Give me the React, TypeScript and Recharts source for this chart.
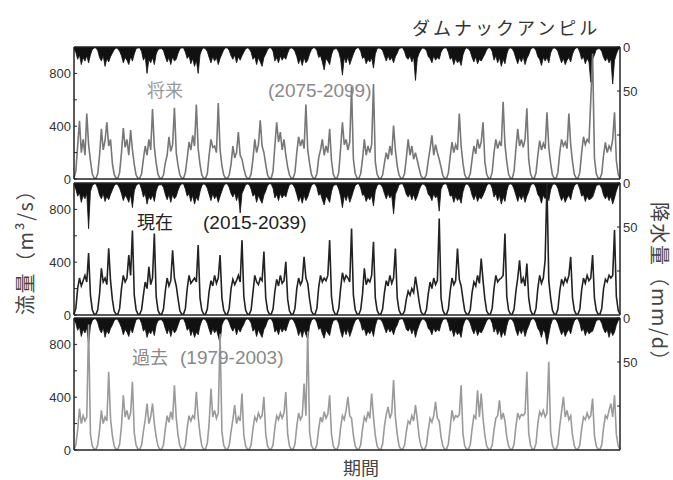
import React from 'react';
import { ComposedChart, Line, Area, XAxis, YAxis, ReferenceLine } from 'recharts';

const months = ['01', '02', '03', '04', '05', '06', '07', '08', '09', '10', '11', '12'];

const futureYears = [2075, 2076, 2077, 2078, 2079, 2080, 2081, 2082, 2083, 2084, 2085, 2086, 2087, 2088, 2089, 2090, 2091, 2092, 2093, 2094, 2095, 2096, 2097, 2098, 2099];
const presentYears = [2015, 2016, 2017, 2018, 2019, 2020, 2021, 2022, 2023, 2024, 2025, 2026, 2027, 2028, 2029, 2030, 2031, 2032, 2033, 2034, 2035, 2036, 2037, 2038, 2039];
const pastYears = [1979, 1980, 1981, 1982, 1983, 1984, 1985, 1986, 1987, 1988, 1989, 1990, 1991, 1992, 1993, 1994, 1995, 1996, 1997, 1998, 1999, 2000, 2001, 2002, 2003];

// flow (m3/s), 12 values per year
const futureFlow = [
  5, 60, 250, 440, 200, 300, 180, 495, 260, 140, 40, 8,
  6, 40, 180, 380, 220, 290, 430, 250, 300, 120, 35, 8,
  5, 50, 200, 385, 240, 300, 180, 370, 220, 110, 30, 6,
  6, 40, 150, 250, 180, 300, 220, 530, 240, 120, 35, 7,
  5, 30, 120, 180, 320, 210, 260, 540, 200, 100, 30, 6,
  6, 50, 160, 280, 220, 330, 250, 565, 230, 110, 30, 6,
  5, 40, 180, 300, 240, 250, 200, 575, 220, 100, 30, 6,
  5, 30, 110, 250, 160, 200, 355, 180, 150, 80, 25, 5,
  5, 40, 150, 300, 200, 260, 445, 250, 200, 110, 30, 6,
  6, 60, 250, 430, 280, 355, 220, 300, 180, 90, 30, 6,
  5, 50, 200, 320, 250, 300, 230, 565, 220, 120, 35, 7,
  6, 40, 160, 220, 300, 180, 250, 200, 380, 140, 35, 6,
  5, 50, 230, 430, 260, 300, 220, 280, 700, 150, 40, 8,
  6, 40, 150, 300, 180, 250, 200, 260, 720, 130, 35, 6,
  5, 30, 120, 200, 150, 250, 180, 405, 220, 100, 30, 5,
  5, 40, 160, 300, 180, 250, 150, 200, 140, 80, 25, 5,
  5, 35, 140, 230, 330, 180, 260, 200, 150, 90, 25, 5,
  6, 45, 170, 280, 200, 260, 220, 495, 250, 120, 30, 6,
  5, 40, 150, 250, 190, 300, 230, 280, 430, 130, 35, 6,
  6, 50, 200, 300, 230, 280, 250, 585, 260, 130, 35, 7,
  6, 60, 230, 380, 250, 300, 240, 300, 535, 150, 40, 8,
  5, 45, 180, 290, 220, 270, 230, 505, 240, 120, 30, 6,
  6, 50, 200, 300, 250, 280, 230, 495, 260, 130, 35, 6,
  6, 50, 200, 320, 260, 300, 280, 600, 950, 160, 40, 8,
  5, 40, 180, 278, 200, 250, 220, 300, 505, 140, 35, 6,
];

const presentFlow = [
  5, 50, 200, 280, 220, 260, 300, 250, 470, 150, 40, 8,
  6, 40, 160, 353, 250, 280, 230, 505, 260, 120, 30, 6,
  5, 50, 200, 300, 250, 280, 454, 300, 640, 150, 40, 7,
  6, 40, 150, 250, 200, 365, 230, 280, 617, 140, 35, 6,
  5, 45, 180, 280, 220, 260, 490, 280, 220, 120, 30, 6,
  6, 50, 200, 300, 240, 260, 280, 250, 530, 130, 35, 7,
  5, 45, 180, 260, 220, 300, 240, 280, 454, 130, 35, 6,
  6, 50, 200, 270, 230, 260, 300, 250, 567, 140, 35, 7,
  5, 40, 170, 300, 250, 230, 280, 260, 480, 130, 35, 6,
  6, 45, 180, 270, 220, 300, 240, 260, 403, 120, 30, 6,
  5, 50, 200, 280, 230, 260, 440, 280, 240, 120, 30, 6,
  6, 50, 210, 300, 250, 280, 260, 300, 567, 140, 35, 7,
  5, 50, 200, 320, 260, 300, 280, 250, 655, 150, 40, 7,
  6, 40, 160, 353, 230, 270, 250, 300, 554, 130, 35, 6,
  5, 45, 170, 260, 220, 300, 240, 280, 504, 130, 35, 6,
  5, 30, 120, 180, 150, 200, 170, 290, 200, 100, 25, 5,
  6, 40, 160, 250, 200, 280, 230, 260, 730, 130, 35, 6,
  5, 45, 180, 280, 230, 260, 504, 270, 220, 120, 30, 6,
  6, 40, 170, 250, 220, 300, 240, 428, 260, 120, 30, 6,
  6, 50, 200, 300, 250, 270, 280, 300, 617, 140, 35, 7,
  5, 45, 180, 280, 415, 240, 280, 220, 390, 130, 35, 6,
  6, 50, 200, 300, 240, 280, 415, 1000, 260, 130, 35, 6,
  5, 45, 180, 270, 230, 280, 250, 300, 440, 130, 35, 6,
  6, 45, 190, 280, 240, 300, 260, 280, 454, 130, 35, 6,
  5, 50, 200, 270, 250, 300, 280, 300, 643, 140, 35, 7,
];

const pastFlow = [
  5, 40, 150, 314, 200, 260, 220, 250, 950, 120, 30, 6,
  6, 40, 150, 300, 200, 250, 220, 592, 240, 110, 30, 6,
  5, 45, 180, 415, 250, 300, 230, 280, 516, 130, 35, 6,
  5, 35, 140, 230, 352, 200, 250, 352, 200, 100, 30, 5,
  6, 40, 160, 260, 210, 290, 230, 490, 240, 110, 30, 6,
  5, 40, 170, 260, 220, 260, 240, 440, 250, 120, 30, 6,
  6, 50, 200, 465, 250, 300, 240, 280, 880, 140, 35, 7,
  5, 35, 140, 230, 340, 200, 250, 220, 428, 110, 30, 5,
  5, 40, 160, 250, 220, 280, 240, 260, 402, 120, 30, 6,
  6, 40, 170, 260, 230, 280, 240, 280, 440, 120, 30, 6,
  5, 45, 180, 280, 230, 260, 503, 260, 900, 140, 35, 7,
  6, 40, 160, 250, 210, 290, 240, 270, 415, 120, 30, 6,
  5, 40, 170, 260, 230, 300, 402, 260, 240, 110, 30, 6,
  5, 40, 160, 250, 220, 290, 240, 428, 250, 110, 30, 6,
  6, 45, 180, 270, 326, 240, 280, 530, 250, 120, 30, 6,
  5, 35, 140, 220, 200, 260, 220, 340, 230, 100, 30, 5,
  5, 40, 150, 240, 210, 260, 365, 240, 220, 100, 30, 5,
  6, 45, 170, 300, 230, 260, 250, 270, 490, 120, 30, 6,
  5, 40, 160, 260, 240, 453, 250, 428, 240, 110, 30, 6,
  5, 35, 150, 240, 260, 377, 230, 280, 220, 100, 30, 5,
  6, 45, 180, 280, 240, 270, 260, 280, 592, 130, 35, 6,
  6, 50, 200, 290, 260, 300, 250, 280, 668, 140, 35, 7,
  5, 45, 180, 290, 402, 250, 300, 230, 260, 110, 30, 6,
  5, 40, 160, 250, 230, 280, 240, 260, 390, 110, 30, 5,
  5, 40, 170, 260, 240, 300, 352, 250, 415, 120, 30, 6,
];

// rainfall (mm/d), 12 values per year
const futureRain = [
  2, 6, 14, 9, 20, 12, 16, 10, 18, 9, 3, 1,
  1, 4, 12, 16, 10, 22, 13, 17, 11, 7, 3, 1,
  2, 5, 10, 18, 12, 15, 20, 11, 16, 8, 2, 1,
  1, 5, 15, 11, 30, 14, 18, 12, 20, 8, 3, 2,
  2, 4, 11, 17, 12, 20, 11, 16, 14, 7, 2, 1,
  1, 6, 13, 10, 19, 13, 22, 15, 30, 9, 3, 1,
  2, 5, 12, 18, 11, 16, 12, 20, 13, 8, 3, 1,
  1, 4, 10, 14, 9, 18, 11, 15, 10, 6, 2, 1,
  2, 6, 14, 11, 20, 12, 17, 22, 12, 8, 3, 1,
  1, 5, 16, 12, 18, 10, 15, 11, 14, 7, 2, 1,
  2, 5, 11, 19, 13, 21, 12, 18, 15, 8, 3, 1,
  1, 4, 12, 10, 17, 26, 13, 16, 20, 9, 3, 2,
  2, 6, 14, 32, 12, 18, 11, 20, 14, 8, 3, 1,
  1, 5, 13, 11, 19, 14, 17, 12, 24, 8, 2, 1,
  2, 4, 10, 16, 10, 15, 12, 18, 11, 7, 2, 1,
  1, 5, 12, 14, 10, 17, 11, 38, 13, 7, 3, 1,
  2, 4, 11, 13, 18, 10, 15, 12, 14, 6, 2, 1,
  1, 6, 14, 12, 20, 13, 18, 15, 21, 9, 3, 1,
  2, 5, 12, 17, 11, 19, 14, 16, 12, 8, 3, 1,
  1, 5, 15, 10, 18, 12, 22, 14, 19, 8, 2, 1,
  2, 6, 13, 19, 12, 17, 11, 20, 13, 9, 3, 1,
  1, 4, 11, 14, 21, 12, 16, 12, 18, 7, 2, 1,
  2, 5, 12, 18, 13, 20, 15, 12, 17, 8, 3, 1,
  1, 6, 14, 11, 19, 13, 17, 40, 14, 9, 3, 2,
  2, 5, 12, 16, 12, 18, 13, 42, 15, 8, 3, 1,
];

const presentRain = [
  2, 7, 15, 11, 22, 14, 18, 12, 52, 10, 3, 1,
  1, 6, 14, 18, 12, 21, 15, 19, 13, 8, 3, 1,
  2, 6, 12, 20, 14, 17, 22, 13, 28, 9, 3, 1,
  1, 7, 16, 12, 24, 15, 19, 14, 21, 9, 3, 2,
  2, 5, 13, 19, 13, 22, 13, 18, 15, 8, 3, 1,
  1, 7, 15, 12, 21, 14, 24, 16, 20, 10, 3, 1,
  2, 6, 13, 20, 12, 18, 14, 22, 15, 9, 3, 1,
  1, 5, 12, 16, 11, 20, 13, 34, 12, 7, 2, 1,
  2, 7, 15, 12, 22, 14, 19, 23, 14, 9, 3, 1,
  1, 6, 17, 13, 20, 12, 17, 13, 16, 8, 2, 1,
  2, 6, 13, 21, 15, 23, 14, 20, 16, 9, 3, 1,
  1, 5, 14, 12, 19, 25, 15, 18, 22, 10, 3, 2,
  2, 7, 15, 28, 14, 20, 13, 22, 16, 9, 3, 1,
  1, 6, 14, 13, 21, 16, 19, 14, 26, 9, 3, 1,
  2, 5, 12, 18, 12, 17, 14, 35, 13, 8, 2, 1,
  1, 6, 13, 16, 12, 19, 13, 20, 15, 8, 3, 1,
  2, 5, 13, 15, 20, 12, 17, 14, 32, 7, 2, 1,
  1, 7, 15, 14, 22, 15, 20, 17, 23, 10, 3, 1,
  2, 6, 14, 19, 13, 21, 16, 18, 14, 9, 3, 1,
  1, 6, 16, 12, 20, 14, 24, 16, 21, 9, 2, 1,
  2, 7, 14, 21, 14, 19, 13, 22, 15, 10, 3, 1,
  1, 5, 13, 16, 23, 14, 18, 14, 20, 8, 2, 1,
  2, 6, 14, 20, 15, 22, 17, 14, 19, 9, 3, 1,
  1, 7, 15, 13, 21, 15, 19, 18, 16, 10, 3, 2,
  2, 6, 14, 18, 14, 20, 15, 24, 17, 9, 3, 1,
];

const pastRain = [
  2, 6, 14, 10, 21, 13, 17, 11, 30, 9, 3, 1,
  1, 5, 13, 17, 11, 22, 14, 18, 12, 8, 3, 1,
  2, 6, 11, 19, 13, 16, 21, 12, 17, 9, 2, 1,
  1, 6, 15, 12, 22, 15, 18, 13, 20, 8, 3, 2,
  2, 5, 12, 18, 12, 21, 12, 17, 14, 8, 2, 1,
  1, 6, 14, 11, 20, 14, 22, 16, 19, 9, 3, 1,
  2, 6, 13, 19, 12, 17, 13, 21, 28, 8, 3, 1,
  1, 5, 11, 15, 10, 19, 12, 16, 11, 7, 2, 1,
  2, 6, 15, 12, 21, 13, 18, 22, 13, 9, 3, 1,
  1, 5, 16, 13, 19, 11, 16, 12, 15, 8, 2, 1,
  2, 6, 12, 20, 14, 22, 13, 19, 24, 9, 3, 1,
  1, 5, 13, 11, 18, 23, 14, 17, 20, 9, 3, 2,
  2, 6, 15, 22, 13, 19, 12, 21, 15, 8, 3, 1,
  1, 6, 14, 12, 20, 15, 18, 13, 21, 9, 2, 1,
  2, 5, 11, 17, 11, 16, 13, 19, 12, 8, 2, 1,
  1, 6, 13, 15, 11, 18, 12, 22, 14, 8, 3, 1,
  2, 5, 12, 14, 19, 11, 16, 13, 15, 7, 2, 1,
  1, 6, 15, 13, 21, 14, 19, 16, 22, 9, 3, 1,
  2, 6, 13, 18, 12, 20, 15, 17, 13, 8, 3, 1,
  1, 6, 16, 11, 19, 13, 22, 15, 20, 9, 2, 1,
  2, 6, 14, 20, 13, 18, 12, 21, 14, 9, 3, 1,
  1, 5, 12, 15, 22, 13, 17, 30, 19, 8, 2, 1,
  2, 6, 13, 19, 14, 21, 16, 13, 18, 9, 3, 1,
  1, 6, 15, 12, 20, 14, 18, 16, 15, 9, 3, 2,
  2, 6, 13, 17, 13, 22, 14, 20, 16, 8, 3, 1,
];

const flowTicks = [0, 200, 400, 600, 800];
const rainTicks = [0, 50, 100];

const FONT = '"Liberation Sans", Arial, "Noto Sans CJK JP", sans-serif';
const CJK = '"Noto Sans CJK JP", "Liberation Sans", sans-serif';

type Row = { t: string; flow: number; rain: number };

function buildRows(years: number[], flow: number[], rain: number[]): Row[] {
  const rows: Row[] = [];
  years.forEach((y, yi) => {
    months.forEach((m, mi) => {
      rows.push({ t: `${y}-${m}`, flow: flow[yi * 12 + mi], rain: rain[yi * 12 + mi] });
    });
  });
  return rows;
}

const futureRows = buildRows(futureYears, futureFlow, futureRain);
const presentRows = buildRows(presentYears, presentFlow, presentRain);
const pastRows = buildRows(pastYears, pastFlow, pastRain);

const PLOT_H = 132;
const PAD = 8;

function Panel({ top, rows, color }: { top: number; rows: Row[]; color: string }) {
  return (
    <div style={{ position: 'absolute', left: 0, top: top - PAD, width: 673, height: PLOT_H + 2 * PAD }}>
      <ComposedChart
        width={673}
        height={PLOT_H + 2 * PAD}
        data={rows}
        margin={{ top: PAD, right: 0, bottom: PAD, left: 0 }}
      >
        <XAxis dataKey="t" hide />
        <YAxis
          yAxisId="l"
          domain={[0, 1000]}
          allowDataOverflow
          ticks={flowTicks}
          interval={0}
          tickFormatter={(v: number) => (v % 400 === 0 ? String(v) : '')}
          width={74}
          tick={{ fontSize: 13, fill: '#333', fontFamily: FONT }}
          axisLine={{ stroke: '#222', strokeWidth: 1.5 }}
          tickLine={{ stroke: '#222' }}
          tickSize={-3}
          tickMargin={6}
        />
        <YAxis
          yAxisId="r"
          orientation="right"
          domain={[0, 150]}
          allowDataOverflow
          reversed
          ticks={rainTicks}
          interval={0}
          tickFormatter={(v: number) => (v === 100 ? '' : String(v))}
          width={53}
          tick={{ fontSize: 13, fill: '#333', fontFamily: FONT }}
          axisLine={{ stroke: '#222', strokeWidth: 1.5 }}
          tickLine={{ stroke: '#222' }}
          tickSize={-3}
          tickMargin={6}
        />
        <Area
          yAxisId="r"
          dataKey="rain"
          type="linear"
          baseValue={0}
          stroke="#111"
          strokeWidth={0.8}
          fill="#111"
          fillOpacity={1}
          isAnimationActive={false}
          dot={false}
          activeDot={false}
        />
        <Line
          yAxisId="l"
          dataKey="flow"
          type="linear"
          stroke={color}
          strokeWidth={1.6}
          dot={false}
          activeDot={false}
          isAnimationActive={false}
        />
        <ReferenceLine yAxisId="l" y={1000} stroke="#222" strokeWidth={1.5} />
        <ReferenceLine yAxisId="l" y={0} stroke="#222" strokeWidth={1.5} />
      </ComposedChart>
    </div>
  );
}

export default function App() {
  return (
    <div style={{ position: 'absolute', left: 0, top: 0, width: 673, height: 480, background: '#fff', overflow: 'hidden' }}>
      <Panel top={47} rows={futureRows} color="#777" />
      <Panel top={183} rows={presentRows} color="#222" />
      <Panel top={318} rows={pastRows} color="#9a9a9a" />
      <svg width={673} height={480} style={{ position: 'absolute', left: 0, top: 0, pointerEvents: 'none' }}>
        <text x={412} y={35} fontSize={18} letterSpacing={3} fill="#333" fontFamily={CJK}>ダムナックアンピル</text>
        <text x={147} y={97} fontSize={18} fill="#999" fontFamily={CJK}>将来</text>
        <text x={268} y={97} fontSize={19} fill="#8a8a8a" fontFamily={FONT}>(2075-2099)</text>
        <text x={137} y={229} fontSize={18} fill="#222" fontFamily={CJK}>現在</text>
        <text x={203} y={229} fontSize={19} fill="#222" fontFamily={FONT}>(2015-2039)</text>
        <text x={132} y={364} fontSize={18} fill="#888" fontFamily={CJK}>過去</text>
        <text x={180} y={364} fontSize={19} fill="#888" fontFamily={FONT}>(1979-2003)</text>
        <text
          x={24}
          y={247}
          fontSize={20}
          letterSpacing={1.5}
          fill="#444"
          fontFamily={CJK}
          textAnchor="middle"
          dominantBaseline="central"
          transform="rotate(-90 24 247)"
        >
          流量（m³/s）
        </text>
        <text
          x={660}
          y={287}
          fontSize={20}
          letterSpacing={1.5}
          fill="#444"
          fontFamily={CJK}
          textAnchor="middle"
          dominantBaseline="central"
          transform="rotate(90 660 287)"
        >
          降水量（mm/d）
        </text>
        <text x={361} y={475} fontSize={18} fill="#444" fontFamily={CJK} textAnchor="middle">期間</text>
      </svg>
    </div>
  );
}
